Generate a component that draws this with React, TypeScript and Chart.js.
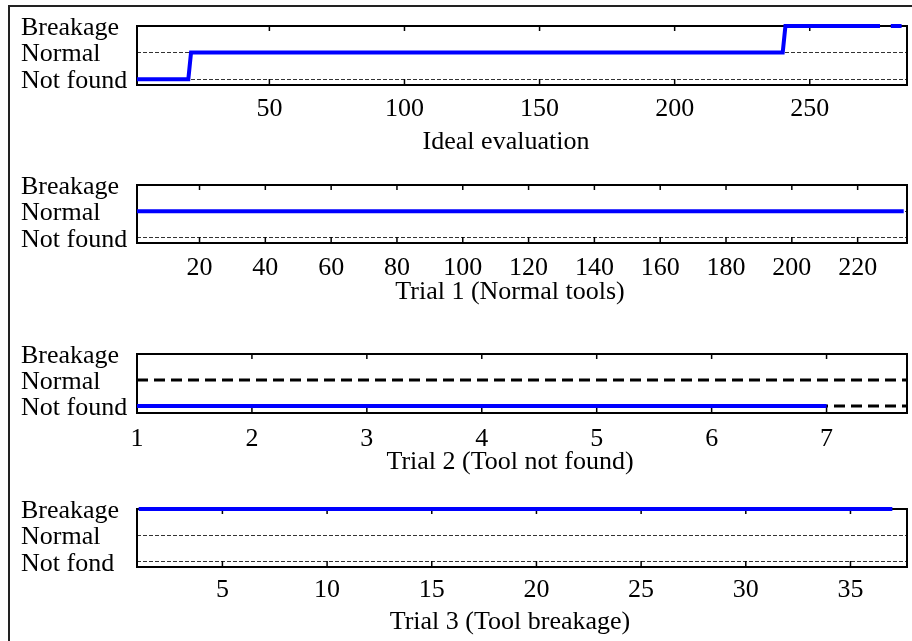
import React, { useEffect, useRef } from 'react';
import { Chart, registerables } from 'chart.js';

Chart.register(...registerables);

// ---- y categories (bottom -> top) ----
const levelValues = [1, 2, 3];
const levelNames = ['Not found', 'Normal', 'Breakage'];
const levelNamesTrial3 = ['Not fond', 'Normal', 'Breakage'];

// ---- Ideal evaluation ----
const idealX = [1, 20, 21, 240, 241, 276, 278, 280, 284];
const idealY = [1, 1, 2, 2, 3, 3, null, 3, 3];
const idealTicks = [50, 100, 150, 200, 250];

// ---- Trial 1 (Normal tools) ----
const trial1X = [1, 234];
const trial1Y = [2, 2];
const trial1Ticks = [20, 40, 60, 80, 100, 120, 140, 160, 180, 200, 220];

// ---- Trial 2 (Tool not found) ----
const trial2X = [1, 7];
const trial2Y = [1, 1];
const trial2RefX = [1, 7.7];
const trial2NormalRefY = [2, 2];
const trial2NotFoundRefY = [1, 1];
const trial2Ticks = [1, 2, 3, 4, 5, 6, 7];

// ---- Trial 3 (Tool breakage) ----
const trial3X = [1, 37];
const trial3Y = [3, 3];
const trial3Ticks = [5, 10, 15, 20, 25, 30, 35];

const captions = [
  'Ideal evaluation',
  'Trial 1 (Normal tools)',
  'Trial 2 (Tool not found)',
  'Trial 3 (Tool breakage)',
];

const FONT = '"Liberation Serif", "Times New Roman", serif';
const BLUE = '#0000ff';

const pts = (xs: number[], ys: (number | null)[]) => xs.map((x, i) => ({ x, y: ys[i] }));

const blue = (xs: number[], ys: (number | null)[]) => ({
  data: pts(xs, ys),
  borderColor: BLUE,
  borderWidth: 4,
  pointRadius: 0,
  tension: 0,
  fill: false,
  spanGaps: false,
  clip: 4,
});

const dashed = (xs: number[], ys: number[]) => ({
  data: pts(xs, ys),
  borderColor: '#000',
  borderWidth: 3,
  borderDash: [11, 6],
  pointRadius: 0,
  tension: 0,
  fill: false,
  clip: 2,
});

const panels = [
  {
    top: 0, height: 170, axisH: 85, xMin: 1, xMax: 286, yMin: 0.78,
    ticks: idealTicks, levels: levelNames, grid: true, tickPad: 9,
    caption: captions[0], capOffset: 64, capShift: -16,
    datasets: [blue(idealX, idealY)],
  },
  {
    top: 159, height: 170, axisH: 86, xMin: 1, xMax: 235, yMin: 0.8,
    ticks: trial1Ticks, levels: levelNames, grid: true, tickPad: 10,
    caption: captions[1], capOffset: 56, capShift: -12,
    datasets: [blue(trial1X, trial1Y)],
  },
  {
    top: 328, height: 170, axisH: 85, xMin: 1, xMax: 7.7, yMin: 0.73,
    ticks: trial2Ticks, levels: levelNames, grid: false, tickPad: 11,
    caption: captions[2], capOffset: 56, capShift: -12,
    datasets: [
      blue(trial2X, trial2Y),
      dashed(trial2RefX, trial2NormalRefY),
      dashed(trial2RefX, trial2NotFoundRefY),
    ],
  },
  {
    top: 483, height: 170, axisH: 86, xMin: 0.92, xMax: 37.7, yMin: 0.8,
    ticks: trial3Ticks, levels: levelNamesTrial3, grid: true, tickPad: 8,
    caption: captions[3], capOffset: 62, capShift: -12,
    datasets: [blue(trial3X, trial3Y)],
  },
];

const framePlugin = {
  id: 'frame',
  beforeDatasetsDraw(chart: any) {
    const { ctx, chartArea: a, scales } = chart;
    const xs = scales.x;
    ctx.save();
    ctx.strokeStyle = '#000';
    ctx.lineWidth = 2;
    ctx.strokeRect(a.left, a.top, a.right - a.left, a.bottom - a.top);
    ctx.lineWidth = 1.5;
    ctx.beginPath();
    for (const t of xs.ticks) {
      const px = xs.getPixelForValue(t.value);
      ctx.moveTo(px, a.bottom);
      ctx.lineTo(px, a.bottom - 6);
      ctx.moveTo(px, a.top);
      ctx.lineTo(px, a.top + 5);
    }
    ctx.stroke();
    ctx.restore();
  },
};

const captionPlugin = {
  id: 'caption',
  afterDraw(chart: any, _args: any, opts: any) {
    const { ctx, chartArea: a } = chart;
    ctx.save();
    ctx.font = `26px ${FONT}`;
    ctx.fillStyle = '#000';
    ctx.textAlign = 'center';
    ctx.textBaseline = 'alphabetic';
    ctx.fillText(opts.text, (a.left + a.right) / 2 + opts.shift, a.bottom + opts.offset);
    ctx.restore();
  },
};

function Panel({ cfg }: { cfg: any }) {
  const ref = useRef<HTMLCanvasElement>(null);
  useEffect(() => {
    const chart = new Chart(ref.current as HTMLCanvasElement, {
      type: 'line',
      data: { datasets: cfg.datasets },
      plugins: [framePlugin, captionPlugin],
      options: {
        animation: false,
        responsive: false,
        events: [],
        layout: { padding: { top: 26, left: 21, right: 5, bottom: 0 } },
        plugins: {
          legend: { display: false },
          tooltip: { enabled: false },
          title: { display: false },
          caption: { text: cfg.caption, offset: cfg.capOffset, shift: cfg.capShift },
        } as any,
        scales: {
          x: {
            type: 'linear',
            min: cfg.xMin,
            max: cfg.xMax,
            afterBuildTicks: (s: any) => {
              s.ticks = cfg.ticks.map((v: number) => ({ value: v }));
            },
            afterFit: (s: any) => {
              s.height = cfg.axisH;
            },
            ticks: {
              autoSkip: false,
              maxRotation: 0,
              padding: cfg.tickPad,
              color: '#000',
              font: { family: FONT, size: 26 },
            },
            grid: { display: false, drawTicks: false },
            border: { display: false },
          },
          y: {
            type: 'linear',
            min: cfg.yMin,
            max: 3,
            afterBuildTicks: (s: any) => {
              s.ticks = levelValues.map((v) => ({ value: v }));
            },
            afterFit: (s: any) => {
              s.width = 116;
            },
            ticks: {
              autoSkip: false,
              crossAlign: 'far',
              padding: 0,
              labelOffset: 2,
              color: '#000',
              font: { family: FONT, size: 26 },
              callback: (v: any) => {
                const i = levelValues.indexOf(Number(v));
                return i >= 0 ? cfg.levels[i] : '';
              },
            },
            grid: { display: cfg.grid, drawTicks: false, color: '#333', lineWidth: 1 },
            border: { display: false, dash: [4, 2] },
          },
        },
      } as any,
    });
    return () => chart.destroy();
  }, []);
  return (
    <canvas
      ref={ref}
      width={912}
      height={cfg.height}
      style={{ position: 'absolute', left: 0, top: cfg.top, width: 912, height: cfg.height }}
    />
  );
}

export default function App() {
  return (
    <div
      style={{
        position: 'absolute',
        left: 0,
        top: 0,
        width: 912,
        height: 641,
        overflow: 'hidden',
        background: '#fff',
      }}
    >
      <div
        style={{
          position: 'absolute',
          left: 8,
          top: 5,
          width: 1000,
          height: 700,
          borderLeft: '2px solid #222',
          borderTop: '2px solid #222',
        }}
      />
      {panels.map((p, i) => (
        <Panel key={i} cfg={p} />
      ))}
    </div>
  );
}
